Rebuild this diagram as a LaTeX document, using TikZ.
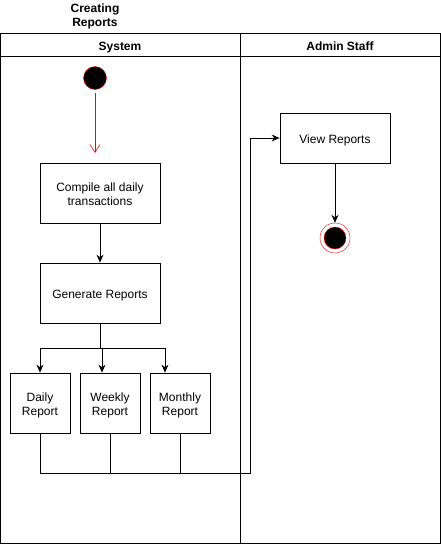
\documentclass[tikz,border=0pt]{standalone}
\usepackage{fontspec}
\setmainfont{Liberation Sans}
\usepackage{tikz}
\usetikzlibrary{arrows.meta}

\begin{document}
\begin{tikzpicture}[->,>={Stealth[length=8pt,width=7pt]},x=1pt,y=-1pt,thick,
                    box/.style={rectangle,draw=black,align=center,inner sep=2pt},
                    oneline/.style={text height=10.7pt,text depth=0.5pt},
                    twoline/.style={text height=24.7pt,text depth=0.5pt},
                    lane/.style={font=\fontsize{12}{14}\selectfont\bfseries,align=center}]
\tikzset{font=\fontsize{12}{14}\selectfont}
\useasboundingbox (0,0) rectangle (441,544);

        % pool and lanes
        \draw[-] (0,33) rectangle (440,543);
        \draw[-] (0,56) -- (440,56);
        \draw[-] (240,33) -- (240,543);

        \node[lane,twoline]               (T)   at (95,14)     {Creating\\Reports};
        \node[lane,oneline]               (L1)  at (120,45)    {System};
        \node[lane,oneline]               (L2)  at (340,45)    {Admin Staff};

        % system lane
        \node[circle,draw=red,fill=black,minimum size=23pt,inner sep=0pt,thin]   (s)  at (95,78)  {};
        \coordinate                                                             (s0) at (95,93);
        \coordinate                                                             (s1) at (95,153);

        \node[box,twoline,minimum width=120pt,minimum height=60pt]   (c)  at (100,193)  {Compile all daily\\transactions};
        \node[box,oneline,minimum width=120pt,minimum height=60pt]   (g)  at (100,293)  {Generate Reports};

        \node[box,twoline,minimum width=60pt,minimum height=60pt]    (d)  at (40,403)   {Daily\\Report};
        \node[box,twoline,minimum width=60pt,minimum height=60pt]    (w)  at (110,403)  {Weekly\\Report};
        \node[box,twoline,minimum width=60pt,minimum height=60pt]    (m)  at (180,403)  {Monthly\\Report};

        \coordinate (k) at (100,348);
        \coordinate (j) at (250,473);

        % admin staff lane
        \node[box,oneline,minimum width=110pt,minimum height=50pt]   (v)  at (335,138)  {View Reports};
        \node[circle,draw=red,fill=white,minimum size=30pt,inner sep=0pt,thin]   (e)  at (335,238)  {};
        \node[circle,draw=red,fill=black,minimum size=22pt,inner sep=0pt,thin]   (e1) at (e)        {};

        \draw[red,semithick,>={Straight Barb[length=8pt,width=10pt]}] (s0) -- (s1);
        \path[->]
        (c)   edge node {}     (g)
        (v)   edge node {}     (e)
        ; %end path

        \draw[-] (g.south) -- (k);
        \draw (k) -| (d.north);
        \draw (k) -| ([xshift=-8pt]w.north);
        \draw (k) -| ([xshift=-15pt]m.north);

        \draw (d.south) |- (j) |- (v.west);
        \draw[-] (w.south) -- (w.south |- j);
        \draw[-] (m.south) -- (m.south |- j);

\end{tikzpicture}
\end{document}
